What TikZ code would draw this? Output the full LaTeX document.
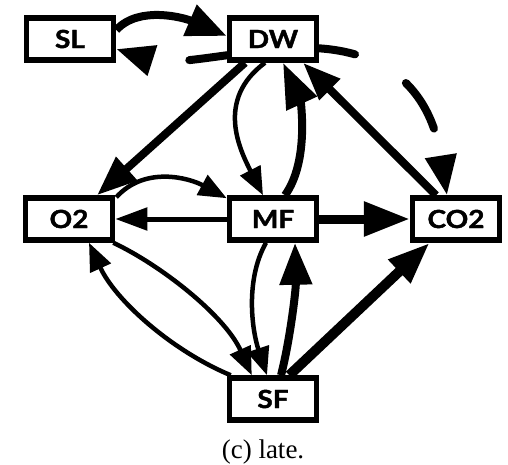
\documentclass[tikz,border=0pt]{standalone}
\usepackage{fontspec}
\setmainfont{Liberation Serif}
\newfontfamily\boxfont[FakeStretch=1.12,FakeBold=1.6]{Lato}
\usetikzlibrary{arrows.meta,calc}
\pgfdeclarelayer{back}
\pgfsetlayers{back,main}

\begin{document}
\begin{tikzpicture}[x=1pt,y=-1pt,
  box/.style={draw,line width=5.5pt,fill=white,minimum width=87pt,minimum height=42pt,
    inner sep=0pt,font=\boxfont\bfseries\fontsize{25}{25}\selectfont},
  thinedge/.style={line width=4.5pt,-{Triangle[length=28pt,width=22pt]}},
  thickedge/.style={line width=8pt,-{Triangle[length=42pt,width=32pt]}},
]
\useasboundingbox (0,0) rectangle (508,465);

% compartments
\node[box] (SL)  at (70,39)   {SL};
\node[box] (DW)  at (273,39)  {DW};
\node[box] (O2)  at (69,219)  {O2};
\node[box] (MF)  at (273,219) {MF};
\node[box] (CO2) at (456,219) {CO2};
\node[box] (SF)  at (273,399) {SF};

% dashed exchange passing behind DW
\begin{pgfonlayer}{back}
\draw[line width=8pt,line cap=round,dash pattern=on 54pt off 59pt,dash phase=74pt,
      {Triangle[length=38pt,width=30pt]}-{Triangle[length=40pt,width=30pt]}]
  ($(SL.east)+(0,10)$) .. controls +(53,17) and +(-53,5) .. ($(DW.south)+(0,-13)$)
  .. controls +(67,-8) and +(-22,-140) .. ($(CO2.north)+(-9,0)$);
\end{pgfonlayer}

% fluxes
\draw[thickedge,-{Triangle[length=40pt,width=32pt]}]
  ($(SL.east)+(0,-9)$) .. controls +(23,-25) and +(-42,-18) .. ($(DW.west)+(0,-3)$);
\draw[thickedge,-{Triangle[length=40pt,width=30pt]}]
  ($(DW.south)+(-28,0)$) -- ($(O2.north)+(28,0)$);
\draw[thinedge]
  ($(DW.south)+(-8,0)$) .. controls +(-50,37) and +(-23,-45) .. ($(MF.north)+(-10,0)$);
\draw[thickedge,-{Triangle[length=45pt,width=32pt]}]
  ($(MF.north)+(12,0)$) .. controls +(25,-35) and +(17,37) .. ($(DW.south)+(10,0)$);
\draw[thickedge,-{Triangle[length=38pt,width=28pt]}]
  ($(CO2.north)+(-20,0)$) -- ($(DW.south)+(30,0)$);
\draw[thinedge]
  ($(O2.north east)+(1,2)$) .. controls +(29,-32) and +(-37,-20) .. ($(MF.north west)+(0,3)$);
\draw[line width=5pt,-{Triangle[length=32pt,width=22pt]}] (MF.west) -- (O2.east);
\draw[line width=9pt,-{Triangle[length=46pt,width=33pt]}] (MF.east) -- (CO2.west);
\draw[thinedge]
  ($(O2.south east)+(-2,0)$) .. controls +(47,22) and +(-27,-60) .. ($(SF.north west)+(25,0)$);
\draw[thinedge]
  ($(SF.north west)+(4,0)$) .. controls +(-60,-25) and +(26,57) .. ($(O2.south)+(20,0)$);
\draw[thinedge]
  ($(MF.south)+(-7,0)$) .. controls +(-21,37) and +(-15,-45) .. ($(SF.north)+(-6,0)$);
\draw[thickedge,-{Triangle[length=42pt,width=31pt]}]
  ($(SF.north)+(8,0)$) .. controls +(9,-35) and +(1,47) .. ($(MF.south)+(22,0)$);
\draw[line width=10pt,-{Triangle[length=42pt,width=30pt]}]
  ($(SF.north east)+(-30,0)$) -- ($(CO2.south west)+(20,0)$);

% caption
\node (cap) at (263,452) {\fontsize{27}{27}\selectfont (c) late.};
\end{tikzpicture}
\end{document}
